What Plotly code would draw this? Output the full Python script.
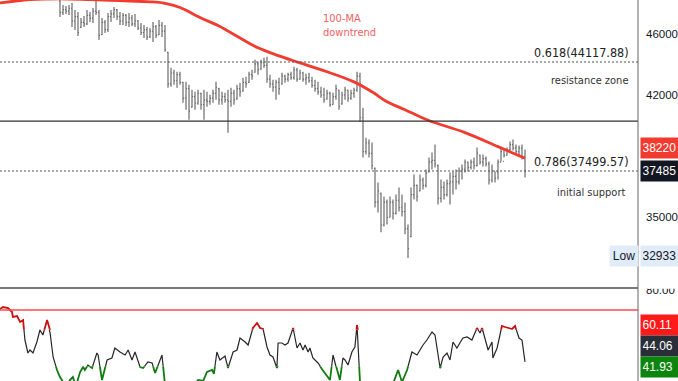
import plotly.graph_objects as go

# ---------------- data ----------------
bar_index = list(range(20, 176))
bar_open = [48300, 47500, 47700, 47600, 47800, 46900, 47200, 46450, 46800, 46700,
            47300, 47100, 47600, 47500, 45950, 46800, 46300, 47200, 47400, 47700,
            47200, 46900, 47300, 46800, 47100, 46700, 46900, 46400, 46100, 46300,
            45800, 46200, 46500, 45950, 46600, 46200, 44750, 42700, 43400, 42900,
            43300, 42800, 41800, 42400, 41250, 41900, 41500, 42100, 41400, 41700,
            41600, 41800, 42100, 42400, 41700, 41900, 41700, 41600, 42100, 41750,
            42400, 42250, 42800, 42800, 43300, 43450, 44000, 43650, 44100, 43900,
            43000, 42700, 42500, 42800, 42700, 43200, 43000, 43300, 43100, 43600,
            43000, 43400, 43000, 43100, 42900, 42600, 42400, 42200, 42000, 41750,
            42100, 41400, 41900, 42300, 41450, 42000, 42300, 41800, 42100, 42300,
            43200, 40600, 38600, 39100, 38500, 37650, 35800, 36250, 34600, 35800,
            35000, 35800, 35200, 35900, 35500, 35300, 34400, 34000, 36200, 36700,
            36400, 37000, 36700, 37450, 38000, 38100, 37800, 36000, 36600, 36200,
            36800, 36900, 37200, 36900, 37500, 37600, 38000, 37700, 38000, 37800,
            38400, 38000, 38200, 37900, 37000, 37500, 37450, 38000, 38050, 38400,
            38700, 39000, 38800, 38600, 38800, 38300]
bar_high = [48600, 48031, 47960, 48031, 48175, 47675, 47534, 47111, 47252, 47675,
            47534, 47817, 48450, 47675, 47111, 46971, 47463, 47675, 47888, 47746,
            47534, 47463, 47393, 47463, 47322, 47393, 46971, 46762, 46623, 46485,
            46416, 46832, 46623, 46971, 46832, 46623, 44789, 43736, 43606, 43477,
            43477, 42834, 42834, 42644, 42328, 42203, 42328, 42140, 42328, 42203,
            42015, 42328, 42834, 42454, 42203, 42140, 42328, 42454, 42328, 42644,
            42771, 43090, 43154, 43477, 43606, 44259, 44127, 44259, 44391, 44457,
            43283, 42962, 42962, 43090, 43412, 43283, 43412, 43477, 43801, 43736,
            43606, 43477, 43347, 43412, 43154, 42962, 42834, 42517, 42454, 42328,
            42203, 42140, 42644, 42328, 42203, 42517, 42328, 42328, 42454, 43477,
            43412, 41211, 39413, 39296, 39121, 37694, 36863, 36318, 36103, 35942,
            36103, 35942, 36210, 36589, 36210, 35782, 34630, 36589, 37303, 36753,
            37303, 37137, 37582, 38258, 38543, 39005, 37862, 37027, 36917, 37027,
            37415, 37470, 37582, 37694, 37862, 38145, 38031, 38145, 38258, 38831,
            38429, 38429, 38315, 38031, 37862, 37470, 38145, 38831, 38716, 38831,
            39179, 39296, 39005, 38947, 39005, 38716]
bar_low = [47180, 47322, 47390, 47322, 46485, 46278, 45867, 46416, 46485, 46623,
           46832, 46762, 47322, 45595, 45935, 46073, 46141, 46832, 47111, 46971,
           46623, 46623, 46554, 46485, 46554, 46485, 46278, 45935, 45731, 45595,
           45731, 45460, 45731, 45935, 45799, 44789, 42454, 42517, 42644, 42454,
           42644, 41519, 41088, 40482, 41211, 41088, 41395, 41088, 40482, 41272,
           41395, 41519, 41704, 41395, 41395, 41519, 39707, 41272, 41395, 41704,
           41890, 42203, 42454, 42771, 42962, 43412, 43283, 43606, 43736, 42771,
           42454, 42203, 41704, 42015, 42644, 42771, 42834, 42962, 42962, 42834,
           42962, 42834, 42644, 42771, 42454, 42203, 42015, 41828, 41519, 41704,
           41272, 41395, 41704, 41088, 41395, 41704, 41580, 41704, 41828, 42203,
           40362, 38258, 38429, 38258, 37582, 35517, 35254, 34221, 34527, 34630,
           34993, 34889, 35149, 35306, 35045, 34119, 32933, 33967, 35942, 35835,
           36372, 36480, 36589, 37415, 37582, 37694, 35676, 35782, 35942, 36103,
           35676, 36210, 36480, 36753, 37027, 37415, 37470, 37582, 37582, 37750,
           37862, 37750, 37750, 36753, 36863, 36863, 37027, 38031, 38258, 38372,
           38543, 38658, 38429, 38315, 38145, 37137]
bar_close = [47500, 47700, 47600, 47800, 46900, 47200, 46100, 46800, 46700, 47300,
             47100, 47600, 47500, 45900, 46800, 46300, 47200, 47400, 47700, 47200,
             46900, 47300, 46800, 47100, 46700, 46900, 46400, 46100, 46300, 45800,
             46200, 46500, 45900, 46600, 46200, 44900, 42700, 43400, 42900, 43300,
             42800, 41800, 42400, 41000, 41900, 41500, 42100, 41400, 41700, 41600,
             41800, 42100, 42500, 41700, 41900, 41700, 41600, 42100, 41700, 42400,
             42200, 42800, 42700, 43300, 43200, 44000, 43600, 44100, 43900, 43000,
             42700, 42500, 42800, 42400, 43200, 43000, 43300, 43100, 43600, 43000,
             43400, 43000, 43100, 42900, 42600, 42400, 42200, 42000, 41700, 42100,
             41400, 41900, 42400, 41300, 42000, 42300, 41800, 42100, 42300, 43200,
             40600, 38600, 39100, 38500, 37800, 35800, 36400, 34600, 35800, 35000,
             35800, 35200, 35900, 35500, 35300, 34400, 33400, 36200, 36700, 36100,
             37000, 36700, 37400, 38000, 38100, 37900, 36000, 36600, 36200, 36800,
             36900, 37200, 36900, 37500, 37600, 38000, 37700, 38000, 37800, 38500,
             38000, 38200, 37900, 37000, 37500, 37100, 38000, 38600, 38400, 38700,
             39000, 38800, 38600, 38800, 38300, 37485]

ma_index = [0, 10, 20, 30, 40, 50, 55, 60, 67, 73, 81, 86, 92, 100, 109, 118, 124,
            129, 135, 140, 144, 155, 166, 175]
ma_value = [48180, 48420, 48480, 48420, 48340, 48260, 48150, 47850, 47110, 46550,
            45600, 45060, 44590, 44060, 43480, 42830, 42200, 41580, 41090, 40660,
            40360, 39710, 38890, 38220]

rsi_pos = [0, 1, 2.7, 4, 4.3, 5.7, 6.7, 7.7, 8.3, 9.3, 10, 11, 12.3, 13.3, 14.3,
           15.7, 16.7, 17.7, 19, 20, 21, 22.3, 23.3, 24.3, 25.3, 26.7, 27.7, 28.3,
           29.3, 30.7, 32.3, 32.7, 34, 35.7, 37.3, 38.3, 40, 41.7, 42.7, 44, 45,
           46.7, 47.7, 49.3, 50.7, 51.7, 54, 55, 57.3, 60, 63.3, 66, 67.7, 69, 70.7,
           71.3, 72.3, 73.3, 75, 76, 77.7, 79, 80, 81.7, 82.7, 84.3, 85.7, 86.7,
           87.7, 89, 90, 91, 92.3, 92.7, 94, 95, 96, 97.7, 99, 100, 101, 101.7,
           102.7, 103.3, 104.3, 106, 107.3, 108.3, 110, 111, 112.3, 113.3, 114.3,
           115, 116, 117.3, 118.3, 119, 120, 121, 123.3, 126.7, 130, 132.7, 134,
           135.7, 137.3, 139, 141, 142.3, 144, 145, 146.7, 147.7, 149, 150, 151,
           152.3, 153.3, 154.3, 155.7, 157.3, 159, 160, 160.7, 161.7, 162.7, 164,
           164.3, 165.7, 167.3, 168.3, 169.3, 170.7, 171.7, 173, 174, 175]
rsi_value = [70.5, 71.5, 71, 69, 66.5, 67, 64, 65, 55, 48.5, 50, 48.5, 54, 60, 57.5,
             65, 58.5, 46.5, 40, 36.5, 32, 31, 35, 36.5, 32, 39, 41.5, 40,
             42.5, 41, 48.5, 47.5, 35, 45, 46, 51, 49, 47.5, 50, 45, 49,
             41.5, 41, 44, 43.5, 38.5, 47.5, 32.5, 29, 27.5, 30, 35, 34.5, 39, 40,
             38, 49, 45, 47, 41, 49, 50, 56, 54, 52.5, 61, 63.5, 61,
             60.5, 51.5, 47.5, 46.5, 41, 53.5, 53.5, 52.5, 53.5, 61, 51, 53.5, 50, 52.5,
             49, 51, 46, 43.5, 40.5, 38.5, 35, 47.5, 40, 35, 46,
             45, 42.5, 49, 51.5, 62.5, 34, 29, 26.5, 26, 29, 40, 34,
             40, 49, 47.5, 52.5, 55, 59, 57.5, 41, 46.5, 48.5, 45, 54,
             51, 53.5, 56, 56.5, 55, 61, 58.5, 61, 56, 50, 54,
             46, 51, 62, 61.5, 61, 60.5, 62, 56, 55, 44.06]

fib_618 = 44117.88
fib_786 = 37499.57
support_line = 40400
ma_last = 38220
last_close = 37485
low_value = 32933
rsi_upper = 60.11
rsi_lower = 41.93
rsi_last = 44.06
rsi_level = 70
price_ticks = [35000, 42000, 46000]

# ---------------- layout helpers (pixels -> paper) ----------------
W, H = 678, 381
PLOT_W = 638
def px(x):
    return x / PLOT_W
def py(y):
    return 1 - y / H

price_dom = [py(288), 1]
rsi_dom = [0, py(288)]
rsi_lo, rsi_hi = 34.5, 81
def rsi_y(v):  # pixel of rsi value
    return 288 + (rsi_hi - v) * (H - 288) / (rsi_hi - rsi_lo)

fig = go.Figure()

fig.add_trace(go.Ohlc(
    x=bar_index, open=bar_open, high=bar_high, low=bar_low, close=bar_close,
    increasing=dict(line=dict(color="#6c6c6c", width=1.2)),
    decreasing=dict(line=dict(color="#6c6c6c", width=1.2)),
    tickwidth=0.35, xaxis="x", yaxis="y", hoverinfo="skip", showlegend=False))

fig.add_trace(go.Scatter(
    x=ma_index, y=ma_value, mode="lines", line=dict(color="#f23b2f", width=2.8, shape="spline"),
    xaxis="x", yaxis="y", hoverinfo="skip", showlegend=False))

fig.add_trace(go.Scatter(
    x=rsi_pos, y=rsi_value, mode="lines", line=dict(color="#262626", width=1.2),
    xaxis="x", yaxis="y2", hoverinfo="skip", showlegend=False))
fig.add_trace(go.Scatter(
    x=rsi_pos, y=rsi_value, mode="lines", line=dict(color="#c81010", width=1.8),
    xaxis="x", yaxis="y3", hoverinfo="skip", showlegend=False))
fig.add_trace(go.Scatter(
    x=rsi_pos, y=rsi_value, mode="lines", line=dict(color="#117a11", width=1.8),
    xaxis="x", yaxis="y4", hoverinfo="skip", showlegend=False))

shapes = []
for val, dash, col, wid in [(fib_618, "2px,2px", "#555555", 1), (fib_786, "2px,2px", "#555555", 1),
                            (support_line, "solid", "#333333", 1.2)]:
    shapes.append(dict(type="line", xref="paper", yref="y", x0=0, x1=1, y0=val, y1=val,
                       line=dict(color=col, width=wid, dash=dash), layer="above"))
shapes.append(dict(type="line", xref="paper", yref="y2", x0=0, x1=1, y0=rsi_level, y1=rsi_level,
                   line=dict(color="#ff4a4a", width=1.5), layer="above"))
# pane separator
shapes.append(dict(type="line", xref="paper", yref="paper", x0=0, x1=1, y0=py(288), y1=py(288),
                   line=dict(color="#4a4a4a", width=1.6), layer="above"))
# cover top of 80.00 label
shapes.append(dict(type="rect", xref="paper", yref="paper", x0=px(639.5), x1=px(680),
                   y0=py(288.8), y1=py(276), line=dict(width=0), fillcolor="white", layer="above"))
# right axis line
shapes.append(dict(type="line", xref="paper", yref="paper", x0=1, x1=1, y0=0, y1=1,
                   line=dict(color="#666666", width=1), layer="above"))

narrow = "DejaVu Sans Condensed, Liberation Sans Narrow, sans-serif"
ann = []
def text(x, y, s, size, color, xanchor="left"):
    ann.append(dict(x=px(x), y=py(y), xref="paper", yref="paper", text=s, showarrow=False,
                    xanchor=xanchor, yanchor="middle", font=dict(family=narrow, size=size, color=color)))

text(321, 18, "100-MA", 11, "#f26262")
text(321, 32, "downtrend", 11, "#f26262")
text(631, 52, "0.618(%.2f)" % fib_618, 12.5, "#222222", "right")
text(589, 80, "resistance zone", 11, "#333333", "center")
text(631, 161, "0.786(%.2f)" % fib_786, 12.5, "#222222", "right")
text(591, 192, "initial support", 11, "#333333", "center")

def box(x, y, s, bg, fg, w=46, xanchor="left"):
    ann.append(dict(x=px(x), y=py(y), xref="paper", yref="paper", text=s, showarrow=False,
                    xanchor=xanchor, yanchor="middle", align="left", bgcolor=bg,
                    width=w, height=17, borderpad=1.5,
                    font=dict(family="Liberation Sans, Arial, sans-serif", size=12, color=fg)))

box(640, 148, "%d" % ma_last, "#f23b2f", "white")
box(640, 171, "%d" % last_close, "#131722", "white")
box(640, 256, "%d" % low_value, "#e1ecfb", "#131722")
ann.append(dict(x=px(609), y=py(256), xref="paper", yref="paper", text="Low", showarrow=False,
                xanchor="left", yanchor="middle", align="center", bgcolor="#e1ecfb",
                width=25, height=17, borderpad=1.5,
                font=dict(family="Liberation Sans, Arial, sans-serif", size=12, color="#131722")))
box(640, 325, "%.2f" % rsi_upper, "#ff1a1a", "white")
box(640, 346, "%.2f" % rsi_last, "#2a2e39", "white")
box(640, 367, "%.2f" % rsi_lower, "#0b850b", "white")

axis_font = dict(family="Liberation Sans, Arial, sans-serif", size=11.5, color="#131722")

fig.update_layout(
    width=W, height=H, margin=dict(l=0, r=W - PLOT_W, t=0, b=0, pad=0, autoexpand=False),
    paper_bgcolor="white", plot_bgcolor="white", showlegend=False,
    xaxis=dict(range=[0, PLOT_W / 3], visible=False, rangeslider=dict(visible=False),
               fixedrange=True, automargin=False),
    yaxis=dict(domain=price_dom, type="log", range=[4.49827, 4.68476], side="right",
               tickvals=price_ticks, ticktext=[str(v) for v in price_ticks],
               showgrid=False, zeroline=False, ticks="", ticklabelstandoff=7,
               tickfont=axis_font, anchor="x", automargin=False),
    yaxis2=dict(domain=rsi_dom, range=[rsi_lo, rsi_hi], side="right", tickvals=[80],
                ticktext=["80.00"], showgrid=False, zeroline=False, ticks="",
                ticklabelstandoff=7, tickfont=axis_font, anchor="x", automargin=False),
    yaxis3=dict(domain=[py(rsi_y(rsi_upper)), py(288)], range=[rsi_upper, rsi_hi],
                visible=False, anchor="x"),
    yaxis4=dict(domain=[0, py(rsi_y(rsi_lower))], range=[rsi_lo, rsi_lower],
                visible=False, anchor="x"),
    shapes=shapes, annotations=ann,
)

fig.write_html("out.html", config={"displayModeBar": False})
